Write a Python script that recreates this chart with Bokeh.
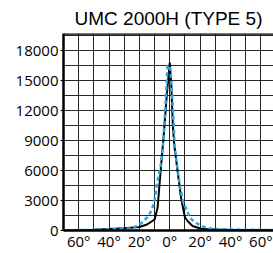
from bokeh.plotting import figure
from bokeh.models import Range1d, FixedTicker, SingleIntervalTicker, Span
from bokeh.embed import file_html
from bokeh.resources import INLINE

title_text = "UMC 2000H (TYPE 5)"

black_angles = [-70, -60, -50, -40, -30, -20, -15, -12, -10, -8, -6, -4, -2, 0,
                1, 2, 3, 5, 7.5, 10, 12, 15, 20, 25, 30, 40, 50, 60, 70]
black_values = [20, 40, 80, 140, 220, 350, 600, 900, 1100, 2300, 6000, 9500, 13500, 16800,
                14500, 10500, 8500, 6100, 3200, 1300, 900, 450, 200, 120, 90, 60, 50, 40, 30]

blue_angles = [-70, -60, -50, -40, -30, -25, -20, -15, -12, -10, -8, -6, -4.5, -3, -1.5, -0.5,
               0.5, 2, 3.3, 5, 6.6, 9, 11.5, 13, 16, 20, 25, 30, 40, 50, 60, 70]
blue_values = [20, 40, 60, 100, 160, 250, 550, 1300, 2000, 3000, 5000, 6500, 8500, 12000, 16500, 16500,
               16000, 12400, 8200, 6300, 4500, 2700, 2000, 1300, 900, 500, 250, 150, 100, 80, 60, 50]

x_ticks = [-60, -40, -20, 0, 20, 40, 60]
x_tick_labels = ["60°", "40°", "20°", "0°", "20°", "40°", "60°"]
y_ticks = [0, 3000, 6000, 9000, 12000, 15000, 18000]
y_max = 19700

p = figure(width=273, height=253, output_backend="svg", toolbar_location=None,
           x_range=Range1d(-70, 68.3), y_range=Range1d(0, y_max),
           min_border_left=63, min_border_right=0, min_border_top=25, min_border_bottom=20)

p.title.text = title_text
p.title.align = "center"
p.title.text_font = "Liberation Sans"
p.title.text_font_size = "19px"
p.title.text_font_style = "normal"
p.title.text_color = "black"

p.xaxis.ticker = FixedTicker(ticks=x_ticks)
p.xaxis.major_label_overrides = {t: l for t, l in zip(x_ticks, x_tick_labels)}
p.yaxis.ticker = FixedTicker(ticks=y_ticks)

for ax in (p.xaxis, p.yaxis):
    ax.axis_line_color = "black"
    ax.axis_line_width = 2.5
    ax.major_tick_line_color = "black"
    ax.major_tick_out = 3
    ax.major_tick_in = 0
    ax.minor_tick_line_color = None
    ax.major_label_text_font = "Open Sans"
    ax.major_label_text_font_size = "15px"
    ax.major_label_text_color = "black"
    ax.major_label_standoff = 2
p.xaxis.major_tick_out = 0
p.xaxis.major_label_standoff = 0

p.xgrid.ticker = SingleIntervalTicker(interval=10)
p.ygrid.ticker = SingleIntervalTicker(interval=1500)
for g in (p.xgrid, p.ygrid):
    g.grid_line_color = "black"
    g.grid_line_width = 1
    g.grid_line_alpha = 0.85

p.outline_line_color = None
p.add_layout(Span(location=y_max, dimension="width", line_color="black", line_width=2.5))
p.background_fill_color = "white"
p.border_fill_color = "white"

p.line(black_angles, black_values, line_color="black", line_width=2)
p.line(blue_angles, blue_values, line_color="#29a9e1", line_width=2.5, line_dash="4 3")

open("out.html", "w").write(file_html(p, INLINE))
